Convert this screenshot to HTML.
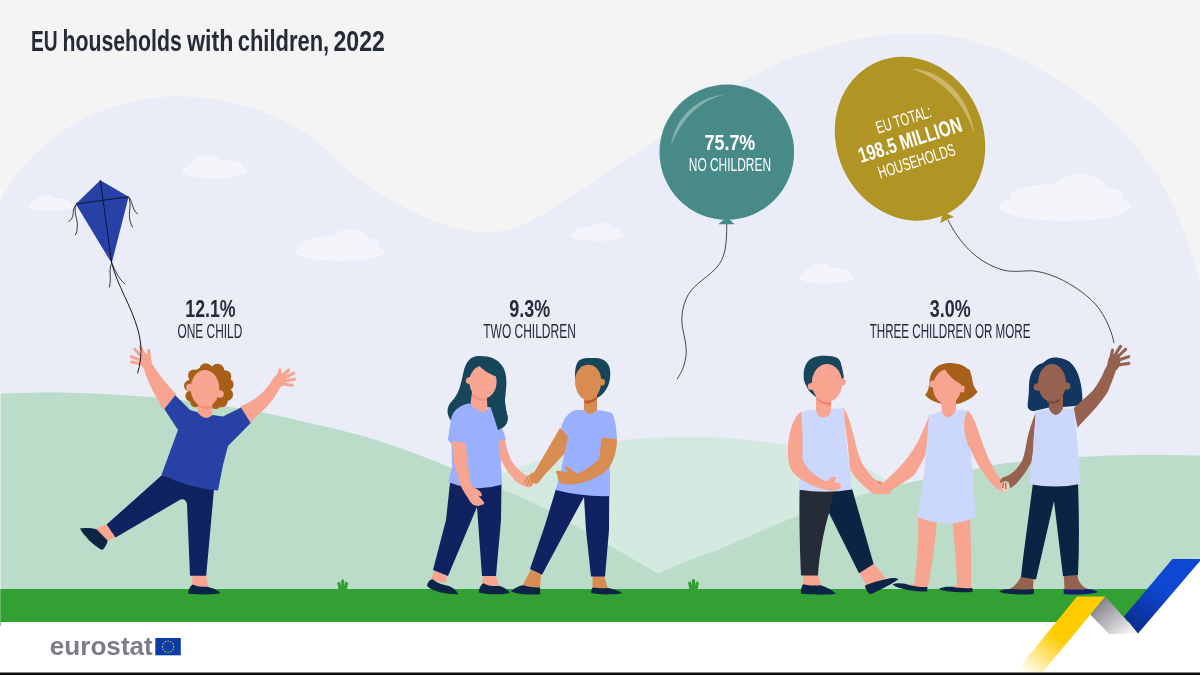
<!DOCTYPE html>
<html><head><meta charset="utf-8">
<style>
html,body{margin:0;padding:0;background:#f4f4f4;}
body{width:1200px;height:675px;overflow:hidden;font-family:"Liberation Sans",sans-serif;}
svg{display:block;will-change:transform;}
text{font-family:"Liberation Sans",sans-serif;}
</style></head><body>
<svg width="1200" height="675" viewBox="0 0 1200 675">
<defs>
<linearGradient id="gy" x1="1088" y1="598" x2="1026" y2="673" gradientUnits="userSpaceOnUse">
<stop offset="0" stop-color="#ffcc00"/><stop offset="0.5" stop-color="#ffcc00"/><stop offset="1" stop-color="#fffdf5"/></linearGradient>
<linearGradient id="gg" x1="1100" y1="602" x2="1128" y2="636" gradientUnits="userSpaceOnUse">
<stop offset="0" stop-color="#85858d"/><stop offset="1" stop-color="#f6f6f6"/></linearGradient>
<linearGradient id="gb" x1="1178" y1="570" x2="1135" y2="626" gradientUnits="userSpaceOnUse">
<stop offset="0" stop-color="#0e47d2"/><stop offset="0.35" stop-color="#0e47d2"/><stop offset="1" stop-color="#0a3092"/></linearGradient>
</defs>
<rect width="1200" height="675" fill="#f4f4f4"/>
<path fill="#eaedf7" d="M0,202 C30,140 100,97 175,96.5 C230,96 270,112 300,130 C325,145 335,160 350,172.5 C370,188 385,197 400,205 C430,221 460,232 485,232.5 C510,232 530,223 550,210 C570,197 585,188 600,177.5 C620,163 635,155 650,145 C670,131 685,119 700,107.5 C718,95 735,85 750,77.5 C768,68 785,60 800,55 C818,49 835,44 850,41 C868,37 885,34 900,34 C918,34 935,34 950,36 C968,39 985,44 1000,50 C1018,57 1035,66 1050,75 C1068,86 1085,97 1100,110 C1120,127 1136,145 1150,165 C1160,179 1168,193 1175,210 C1186,235 1194,258 1200,285 L1200,600 L0,600 Z"/>
<g fill="#f4f5fa"><ellipse cx="50.8" cy="206.0" rx="21.8" ry="5.0"/><ellipse cx="51.2" cy="202.0" rx="18.7" ry="3.8"/><ellipse cx="46.0" cy="200.8" rx="9.1" ry="5.8"/><ellipse cx="214.5" cy="171.1" rx="32.5" ry="7.2"/><ellipse cx="215.2" cy="165.3" rx="27.9" ry="5.6"/><ellipse cx="207.0" cy="163.4" rx="13.7" ry="8.4"/><ellipse cx="340.2" cy="251.3" rx="44.6" ry="9.7"/><ellipse cx="341.1" cy="243.4" rx="38.4" ry="7.5"/><ellipse cx="350.5" cy="240.9" rx="18.7" ry="11.3"/><ellipse cx="597.2" cy="235.3" rx="26.2" ry="5.7"/><ellipse cx="597.8" cy="230.6" rx="22.6" ry="4.4"/><ellipse cx="602.0" cy="229.2" rx="11.0" ry="6.7"/><ellipse cx="1065.5" cy="206.4" rx="65.5" ry="14.6"/><ellipse cx="1066.8" cy="194.7" rx="56.3" ry="11.3"/><ellipse cx="1080.0" cy="190.9" rx="27.5" ry="16.9"/><ellipse cx="826.5" cy="277.3" rx="27.5" ry="6.2"/><ellipse cx="827.0" cy="272.3" rx="23.6" ry="4.8"/><ellipse cx="821.0" cy="270.7" rx="11.5" ry="7.2"/></g>
<path fill="#d4e9df" d="M470.0,490.0 C472.0,488.8 476.7,485.7 482.0,483.0 C487.3,480.3 495.7,476.4 501.8,473.8 C507.9,471.2 512.3,469.5 518.4,467.3 C524.5,465.1 529.1,463.6 538.5,460.7 C547.9,457.8 561.4,453.4 575.0,450.0 C588.6,446.6 605.8,442.6 620.0,440.5 C634.2,438.4 647.8,438.1 660.0,437.5 C672.2,436.9 681.8,436.7 693.5,436.8 C705.2,436.9 718.9,437.5 730.0,438.3 C741.1,439.1 748.3,440.1 760.0,441.5 C771.7,442.9 788.3,445.1 800.0,447.0 C811.7,448.9 821.3,450.7 830.0,453.0 C838.7,455.3 845.3,458.2 852.0,461.0 C858.7,463.8 863.2,466.0 870.0,470.0 C876.8,474.0 886.3,480.5 893.0,485.0 C899.7,489.5 907.2,495.0 910.0,497.0 L910,600 L470,600 Z"/>
<path fill="#badcc9" d="M0.0,393.5 C8.3,393.3 33.3,392.3 50.0,392.4 C66.7,392.4 83.3,393.0 100.0,393.8 C116.7,394.6 133.3,395.6 150.0,397.0 C166.7,398.4 181.7,400.0 200.0,402.5 C218.3,405.0 243.3,408.9 260.0,412.0 C276.7,415.1 286.7,417.8 300.0,420.8 C313.3,423.8 330.0,427.8 340.0,430.2 C350.0,432.6 353.3,433.4 360.0,435.3 C366.7,437.2 370.0,438.0 380.0,441.3 C390.0,444.6 408.0,450.9 420.0,455.4 C432.0,459.8 438.3,462.4 452.0,468.0 C465.7,473.6 486.3,482.2 502.0,489.0 C517.7,495.8 532.8,502.2 546.0,509.0 C559.2,515.8 567.2,521.2 581.5,529.5 C595.8,537.8 619.2,551.1 632.0,558.5 C644.8,565.9 654.1,571.1 658.5,573.6 L700,600 L0,600 Z"/>
<path fill="#badcc9" d="M640,600 L658.5,573.6 C663.8,571.3 678.9,564.4 690.0,560.0 C701.1,555.6 707.5,554.2 725.0,547.0 C742.5,539.8 771.7,525.8 795.0,517.0 C818.3,508.2 849.0,499.0 865.0,494.0 C881.0,489.0 881.2,489.4 891.0,487.0 C900.8,484.6 910.0,482.5 924.0,479.5 C938.0,476.5 961.0,471.8 975.0,469.0 C989.0,466.2 990.5,465.0 1008.0,463.0 C1025.5,461.0 1058.0,458.3 1080.0,457.0 C1102.0,455.7 1120.0,455.2 1140.0,455.0 C1160.0,454.8 1190.0,455.4 1200.0,455.5 L1200,600 Z"/>
<rect x="0" y="589" width="1200" height="33" fill="#33a033"/>
<rect x="0" y="622" width="1200" height="53" fill="#ffffff"/>
<g fill="none" stroke="#33a033" stroke-width="3.2" stroke-linecap="round">
<path d="M342.7,589.5 L342.7,580.9 M340.3,589.5 L338.9,583.5 M345.1,589.5 L346.5,583.5"/>
<path d="M693.5,589.5 L693.5,580.5 M691.1,589.5 L689.7,583.2 M695.9,589.5 L697.3,583.2"/>
</g>
<path fill="#33a033" d="M338.5,586 h8.4 v4 h-8.4z M689.3,586 h8.4 v4 h-8.4z"/>
<!-- kite -->
<g fill="none" stroke="#1a1a1a" stroke-width="0.85" stroke-linecap="round">
<path d="M76,205 C72,209 74,215 72,218 C71,220 70,221 68.8,221.3 M76,205 C73,212 78,219 77.3,226.7 C77.2,230 76.5,233 75.5,234.7"/>
<path d="M128.8,197.3 C133,201 131,208 137.3,213.9 M128.8,197.3 C132,205 128,213 129.9,220 C130.5,223 131.5,225.5 132.5,227.2"/>
<path d="M111.7,263 C108,270 112,277 109.4,287 M111.7,263 C115,270 118,278 124.7,283.8"/>
</g>
<path fill="#2741a6" d="M100.3,180.2 L128.6,196.8 L111.7,263.3 L75.8,204 Z"/>
<path fill="none" stroke="#0d1530" stroke-width="1" d="M100.3,180.2 L111.7,263.3 M75.8,204 L128.6,196.8"/>
<!-- teal balloon -->
<path fill="none" stroke="#444752" stroke-width="1" d="M726.7,223 C727,245 725,258 717,267 C710,276 695,283 688,295 C681,308 681,322 683,330 C686,345 688,352 684,365 C682,372 679,376 677,379.3"/>
<path fill="#488a87" d="M726.9,217 L734.6,224.2 L718.2,224.2 Z"/>
<ellipse cx="726.8" cy="152.2" rx="67.3" ry="67.6" fill="#488a87"/>
<path fill="#ffffff" fill-opacity="0.33" d="M671,146 C674,120 695,97 726,94.2 C700,100 682,118 671,146 Z"/>
<g fill="#ffffff">
<text x="704.5" y="149.6" font-size="22.2" font-weight="700" textLength="50.8" lengthAdjust="spacingAndGlyphs">75.7%</text>
<text x="688.8" y="170.8" font-size="19" textLength="82.2" lengthAdjust="spacingAndGlyphs">NO CHILDREN</text>
</g>
<!-- gold balloon -->
<path fill="none" stroke="#444752" stroke-width="1" d="M948,220 C958,240 975,262 1003,270 C1015,273 1025,270 1034,271 C1060,274 1090,295 1100,310 C1108,322 1112,333 1114,343"/>
<g transform="rotate(-24.5 910 138.8)">
<path fill="#b09424" d="M910,219 L917.5,228 L902.5,228 Z"/>
<ellipse cx="910" cy="138.8" rx="73.4" ry="83.6" fill="#b09424"/>
</g>
<path fill="#ffffff" fill-opacity="0.33" d="M910.7,68.7 C940,69 970,95 974.4,134.8 C965,104 944,79 910.7,68.7 Z"/>
<g fill="#ffffff" transform="rotate(-17.5 910 140)">
<text x="881.4" y="124.5" font-size="17.4" textLength="57.2" lengthAdjust="spacingAndGlyphs">EU TOTAL:</text>
<text x="856.3" y="147.3" font-size="21.5" font-weight="700" textLength="107.4" lengthAdjust="spacingAndGlyphs">198.5 MILLION</text>
<text x="870" y="168" font-size="17.4" textLength="80" lengthAdjust="spacingAndGlyphs">HOUSEHOLDS</text>
</g>
<!-- CHILD 1 -->
<g>
<!-- raised leg foot -->
<path fill="#f7a590" d="M106.6,524.6 L115.6,537.4 L107,541.5 L96,528.5 Z"/>
<path fill="#0c2445" d="M80,528.4 C84,527.5 92,527.8 96.5,529.2 L107.6,540.6 C107,545 104.5,548.5 102,550 C94,546 84,536 80,528.4 Z"/>
<!-- standing foot -->
<path fill="#f7a590" d="M192.4,575 L206.2,575 L208.5,588 L192,588 Z"/>
<path fill="#0c2445" d="M188,593.6 C188.5,589 190.5,585.5 193,584.4 C197,586.5 203,587 207,586.8 C213,588 218,590.5 220.4,593 C215,594.8 195,595 188,593.6 Z"/>
<!-- pants -->
<path fill="#10225f" d="M162,475 L106.6,524.6 L115.6,537.4 L180.5,499.5 Q185.5,498 187,504 L190,575.8 L206.2,575.8 L214,489 Z"/>
<!-- arms -->
<path fill="#f7a590" d="M176.5,394.5 C168,386 160,376 153.5,366 C152,363 149,362 146.5,364 C144.5,366 143.8,368.5 144.5,371 C147,379 151,388 156,397 C158.5,401.5 161,406 163,410 Z"/>
<path fill="#f7a590" d="M240,406.5 C248,403 256,399 262,393 C266,389 270,384 272.5,379.5 C275,377 278.5,378 280,381 C281.5,384 281,387 279,389.5 C275,397 268,407 258,414.5 C255,417 252,420 251.5,424 Z"/>
<!-- hands -->
<ellipse cx="145.8" cy="361.5" rx="5.8" ry="8.8" transform="rotate(-18 145.8 361.5)" fill="#f7a590"/>
<ellipse cx="279.5" cy="380.5" rx="6.2" ry="8.2" transform="rotate(38 279.5 380.5)" fill="#f7a590"/>
<g fill="none" stroke="#f7a590" stroke-linecap="round" stroke-width="3.1">
<path d="M142,357 L134.8,349.3 M144.5,355 L140.4,346.8 M141,360.5 L131.3,356.5 M141.5,364 L131.6,362 M149.3,358 L148.8,350.3"/>
<path d="M278.5,376 L280,369.8 M282,376 L288.8,370 M284,378 L293.8,373.2 M285,381 L294.6,379.3 M283.5,384 L292.3,385.2"/>
</g>
<!-- hair -->
<g fill="#a85f1a">
<ellipse cx="208.5" cy="386" rx="20.5" ry="20"/>
<circle cx="205.8" cy="369.8" r="6.6"/><circle cx="217.5" cy="370.5" r="6.8"/><circle cx="225" cy="376.5" r="6.3"/>
<circle cx="227.6" cy="384.5" r="6"/><circle cx="226.8" cy="394.5" r="6.3"/><circle cx="221.5" cy="401" r="6.3"/><circle cx="215.5" cy="403.5" r="5.6"/>
<circle cx="194" cy="375.6" r="6"/><circle cx="189.6" cy="385.7" r="5.6"/><circle cx="191" cy="396" r="5.6"/><circle cx="195.5" cy="402" r="5.3"/>
</g>
<!-- neck -->
<path fill="#f7a590" d="M198,400 L212.4,400 L212.4,414 Q205,423 197.6,412 Z"/>
<!-- shirt -->
<path fill="#2741a6" d="M175.3,395.3 L190,410 L197.6,412.2 Q205,422 212.4,415 L223,416.4 L241,407.5 L250.7,423 L228,446 L223,465 L218,490.6 Q188,488 161.6,474.6 L178,430 L164.3,409 Z"/>
<!-- face -->
<circle cx="190" cy="387.5" r="3.8" fill="#f7a590"/><circle cx="220" cy="394" r="3.8" fill="#f7a590"/>
<ellipse cx="205" cy="388.5" rx="14.3" ry="18.5" fill="#f7a590"/>
<path fill="#f28f7d" d="M198.5,404 Q205,409 212,405 L212,408 Q205,410.5 198.5,406.5 Z"/>
</g>
<path fill="none" stroke="#1a1a1a" stroke-width="1" stroke-linecap="round" d="M111.7,263 C117,285 131,305 138,330 C142,345 142,358 137.7,373"/>
<!-- GIRL 2 -->
<g>
<!-- hair back -->
<path fill="#17465a" d="M480,356 C470,355.5 466,362 463.5,372 C461,384 459,394 452,401 C446,407 446.5,415 451,420.5 L470,404 L492,408 L498,430 C504,428 509,423 507.5,416 C506,410 504,402 505.5,394 C507,384 507,374 503,367 C498,359 490,356 480,356 Z"/>
<!-- feet -->
<path fill="#f7a590" d="M434,571 L447,575.5 L446,583 L431,580 Z"/>
<path fill="#f7a590" d="M483,575.5 L496,575.5 L499,586 L482,586 Z"/>
<path fill="#0c2445" d="M427,586 C427.5,582 430,579.5 432.5,579.2 C437,583 443,585 449,586 C453,587.5 456.5,590.5 458.3,594.2 C448,594.5 433,592 427,586 Z"/>
<path fill="#0c2445" d="M478.6,592.5 C479,588 481,584.5 483.5,583.2 C488,586 494,586.5 499,585.8 C504,587 508,590 510,593 C503,594.8 488,595 478.6,592.5 Z"/>
<!-- pants -->
<path fill="#10225f" d="M450,483 L446,520 L433,570 L448,576 L477,507 L482,576 L496,576 L501,520 L501.5,483 Z"/>
<!-- shirt body -->
<path fill="#9aaffd" d="M468,403.5 C459,406 452,411 451,420 L448,440 L451.5,444 L452,467 L448.4,482 Q475,493 502,484.5 L500,444 L506,439 L496,412 C494,409 492,408 490,407 L484.5,411.4 Q478,412 471,404 Z"/>
<!-- right tress over shoulder -->
<path fill="#17465a" d="M490,405 L498,430 C504,428 509,423 507.5,416 C506,410 504,402 505.5,394 L496,392 Z"/>
<!-- right arm -->
<path fill="#f7a590" d="M498.5,441 L505,439.5 C507,450 509,456 512,461.5 C516,468 521,472 526,475.5 C530,476 533,479 533.2,482.5 C533.2,486 530,488 526.5,487 C520,485 515,481 511.9,476.7 C506,470 502,463 500,457.8 Z"/>
<!-- left arm + hand -->
<path fill="#f7a590" d="M452.2,441 L465.8,443 C466.5,450 467,454 467.4,457.8 C468,464 468.5,470 469.2,475.6 C470,480 471,483.5 472.2,486.2 L478,489.8 C480,491 481.5,492.8 481.8,494.5 C482,496 481,496.8 479.5,496 L478,495.1 L484,502.2 C484.3,504 483.5,505 482.2,504.6 C480,506 478,506.2 476.9,505.8 C475,505.5 473.5,505 472.2,504 C470,501.5 468.5,499 467.4,496.9 C465.5,494.5 464,492 462.7,489.8 C460.5,485.5 459,481 458,476.7 C456,470 454,464 453.2,457.8 Z"/>
<!-- left sleeve over arm -->
<path fill="#9aaffd" d="M451,420 L448,440 L465.8,443.2 L470,420 Z"/>
<!-- neck -->
<path fill="#f7a590" d="M472,392 L486.5,392 L487.5,409 L484.8,412 Q477,412.5 470.5,403.5 Z"/>
<!-- face -->
<circle cx="469.5" cy="380.5" r="3.6" fill="#f7a590"/>
<ellipse cx="483" cy="382" rx="13.6" ry="16.6" fill="#f7a590"/>
<path fill="#f28f7d" d="M472.5,393.5 Q478,399.5 486,399 L486,400.8 Q477,401.5 472,395.5 Z"/>
<!-- fringe -->
<path fill="#17465a" d="M479,365.5 C483,370 490,374.5 496.5,376.5 L499,384 L504,376 L499,362 L486,357 L474,360 L466,370 L467.5,379 C470,373 474,368 479,365.5 Z"/>
</g>
<!-- BOY 2 -->
<g>
<!-- hair -->
<path fill="#17465a" d="M575.3,380 C574.5,371 575.5,364.5 579,360.6 C582.5,357.6 588,357.9 593.9,358 C599,357.7 604.5,359.3 607.4,363.3 C610,367 610.5,371 610.2,375.2 C610,386 604.5,394 596.8,398.3 L596,384 L582,366 Z"/>
<!-- feet -->
<path fill="#d98c52" d="M531,569.5 L541,574.5 L540,588 L522,586.5 Z"/>
<path fill="#d98c52" d="M592.5,576 L604,576 L608,589 L592.5,589 Z"/>
<path fill="#0c2445" d="M511,591.5 C514,588.5 519,585.5 523,585.2 C529,587 535,587.6 540,587.4 L540.2,594.3 C530,595 518,594.5 511,591.5 Z"/>
<path fill="#0c2445" d="M591.2,593 C591.3,590.5 592,588.5 593,587.6 C598,588.5 604,588.5 608.5,588 C614,589 619.5,591 622.4,593.2 C613,594.8 598,594.8 591.2,593 Z"/>
<!-- pants -->
<path fill="#10225f" d="M556,489 L545,525 L530,569 L542,574.8 L566,530 L584,497 L586,530 L591,576.6 L605,576.6 L609,530 L609.2,494 Z"/>
<!-- left arm (behind shirt) -->
<path fill="#d98c52" d="M560,428 L572,438 L565,453 L545,474.5 L538.5,482.5 C536.5,484.5 533.5,484 532,481.5 C530.5,478.5 529.5,476 528.5,475.3 C530,474 532,473.2 534.4,472 Z"/>
<!-- shirt -->
<path fill="#9aaffd" d="M576,410 C569,411.5 563,419 561,428.5 L568,436.5 L560,475 L555.6,490 Q583,497 610,496 L610,475 L608,440 L617,439 C616.5,428 615,418 612,413 C606,411 601,410.5 597,410 Q590,418 584,410 Z"/>
<!-- right arm across belly -->
<path fill="#d98c52" d="M602,437.5 L617,439.2 C617,448 615,457 611.4,463.7 C608,470 602,475 594.8,478 C587,481.5 579,484 571,484.5 C566,485 561,483.5 559,481.5 C557.5,480 557.8,477 557.5,475 L555.7,472 C556.5,470.5 559,470.5 562,471.5 L568,472 L565,468 C564.5,466.5 565.5,465.8 567,466.5 L577.6,473.8 C586,470 594,464 599,459 Z"/>
<!-- neck -->
<path fill="#d98c52" d="M584,392 L597,392 L597,410 Q590,418 584,410 Z"/>
<!-- face -->
<circle cx="601.6" cy="382.2" r="3.4" fill="#d98c52"/>
<path fill="#d98c52" d="M588.5,364.8 C596,364.8 601.3,372 601.3,381 C601.3,391 595.5,400.3 588,400.3 C580.5,400.3 575,391 575,381 C575,372 581,364.8 588.5,364.8 Z"/>
<path fill="#c0583a" d="M584.5,400.3 Q591,401.5 596.5,396.5 L596.8,399.3 Q591,404.5 584.8,403.2 Z"/>
<path fill="none" stroke="#d98c52" stroke-width="1.7" stroke-linecap="round" d="M528.2,476.5 L524.8,483 M530.3,477.8 L527.6,485 M532.3,479 L530.6,485.8"/>
</g>
<!-- BOY 3 -->
<g>
<!-- hair -->
<path fill="#17465a" d="M817,397.6 C812,394 809.5,391.5 808.1,389.4 C805,384 803.5,380 803.7,377.6 C803.3,370 805,362 811.9,358.3 C816,356.3 820,355.8 824.4,355.8 C829,355.7 834,356.3 837.8,358.3 C840,360 841,363 841.5,365.7 C842.5,369.5 843.3,373 843.9,377.5 L836,385 L820,390 Z"/>
<!-- back foot -->
<path fill="#f7a590" d="M803,575 L818,575 L821,586 L803,586 Z"/>
<path fill="#0c2445" d="M801,593.6 C800.8,589.5 801.5,586 803,584.2 C808,585.5 815,585.6 820.5,585.2 C827,587 833,590.5 836,593.8 C826,595 808,595 801,593.6 Z"/>
<!-- front foot -->
<path fill="#f7a590" d="M859,572.5 L873.6,563.5 L886,578 L867,586 Z"/>
<path fill="#0c2445" d="M865,585.5 C873,582 886,578.5 893,578 C896,578 898,578.5 898.3,579.5 C890,585 878,591 870.5,594.3 C868,593 865.5,589.5 865,585.5 Z"/>
<!-- pants -->
<path fill="#262b38" d="M799.6,490 C799,520 800,550 801,575.6 L818,575.6 C819,555 824,530 829,513 L836.5,490 Z"/>
<path fill="#0a2444" d="M834,490 L852,488.5 L873.6,564 L859,573.2 L829,513 Z"/>
<!-- left arm -->
<path fill="#f7a590" d="M801.5,411.5 C794,416 789,430 788,447 C787.5,458 789,466 792,471 C800,481 815,488 830,490.8 L838,490 C841,488.5 841.5,485.5 840,483.5 L834.5,482 L836,478 C835,476 833,476 831.5,477.5 L827,481.5 C816,477 807,470 803,460 L803,430 Z"/>
<!-- tank -->
<path fill="#ccd7fd" d="M801,412 C806,410.5 812,409.5 816,409.5 C816.5,420.5 830.5,420.5 831,409 C836,408.5 840,408.3 843.6,408.3 L846,440 L850,470 L852,489.5 Q825,494 798,489.5 L802.5,460 L802.5,430 Z"/>
<!-- forearm over tank -->
<path fill="#f7a590" d="M792,471 C800,481 815,488 830,490.8 L838,490 C841,488.5 841.5,485.5 840,483.5 L834.5,482 L836,478 C835,476 833,476 831.5,477.5 L827,481.5 C816,477 807,470 803,460 L797,463 Z"/>
<!-- right arm -->
<path fill="#f7a590" d="M843.6,408.3 C848,414 851.5,427 854.8,440 C856.5,448 858.5,455 861.3,461.7 C865,469 870,475 875.3,480 L881,481.5 C885,482.5 887,486.5 885,490.5 C883,494.5 877,495.5 873,493.5 L871,492 C862,485 855,478 850.4,470.3 L847.2,440 L845,425 Z"/>
<!-- neck -->
<path fill="#f7a590" d="M816,394 L831,394 L831,409 C830.5,420.5 816.5,420.5 816,409.5 Z"/>
<!-- face -->
<circle cx="811.3" cy="386.5" r="3.6" fill="#f7a590"/><circle cx="842.6" cy="382" r="3.3" fill="#f7a590"/>
<ellipse cx="827" cy="383" rx="15.2" ry="19" fill="#f7a590"/>
<path fill="#f4806d" d="M817.3,398.2 Q823,403.3 831,402.3 L831,405.3 Q822,404.8 816.8,399.8 Z"/>
</g>
<!-- GIRL 3 -->
<g>
<!-- hair back -->
<path fill="#a85f1a" d="M951,363 C939,362.5 931,369 929.5,380 C929,388 928,392 925,395 C930,400.5 938,403.5 945,404 L957,404 C966,402 973,397.5 977.6,392 C974,388 972.5,383 972,378 C971,369 963,363.5 951,363 Z"/>
<!-- legs -->
<path fill="#f7a590" d="M918,516 L937,518 C936,540 932,565 928.5,584 L927.4,588 L914,586 C917,565 919,540 918,516 Z"/>
<path fill="#f7a590" d="M952,518 L970,516 C971,540 971.5,565 971,588 L957,588 C957,565 954,540 952,518 Z"/>
<path fill="#f7a590" d="M914,584 L928,586 L927.4,590 L900,586.5 Z"/>
<path fill="#f7a590" d="M957,585 L971,585 L971.5,590 L944,589 Z"/>
<!-- shoes -->
<path fill="#0c2445" d="M892.4,584.5 C896,582.8 902,583 906,584 C913,586.5 921,587.3 927.4,587 L927.2,591.6 C915,591.8 899,589.5 892.4,584.5 Z"/>
<path fill="#0c2445" d="M938.6,589 C942,587 948,586.5 952,586.8 C959,588.3 966,588.5 972.4,588 L972.6,592 C960,592.8 945,592 938.6,589 Z"/>
<!-- left arm -->
<path fill="#f7a590" d="M930,414 C926,424 922,433 918.7,440 C915,447 911,453 907.8,457.3 C901,466 893,474 884,482.3 C880,485 879,489 881,492 C884,495.5 888.5,495 892,492 L890.5,490.9 C899,485 908,480 914.3,474.7 C919,468 922.5,461 925.2,455.2 L928,441 Z"/>
<!-- dress -->
<path fill="#ccd7fd" d="M929,415 C933,413.5 938,412 941.5,411.5 Q948.5,424 956,410 C960,410 964,410.3 968,410.8 L970,440 L972.5,470 L975.6,517 Q948,530 918,517 L924.5,470 L927,440 Z"/>
<!-- right arm -->
<path fill="#f7a590" d="M968,410.8 C973,415 977.5,428 981.5,440 C985,451 989.5,461 994.5,470.3 L1001,480 C1004,481 1007,484 1007.5,487 C1007.5,490.5 1004,492 1001,491 L996.7,488.8 C988,480 980.5,470 975,459.5 C972,453 969.5,446 968,445 C964.5,435 963.5,425 964.5,420 C965,416 966.5,413 968,410.8 Z"/>
<!-- neck -->
<path fill="#f7a590" d="M941.5,396 L956,396 L956,410 Q948.5,424 941.5,411.5 Z"/>
<!-- face -->
<circle cx="932.5" cy="384" r="3.5" fill="#f7a590"/><circle cx="962" cy="389" r="3.5" fill="#f7a590"/>
<ellipse cx="947" cy="387" rx="14" ry="17.5" fill="#f7a590"/>
<!-- fringe -->
<path fill="#a85f1a" d="M945,369 C949,377 957,383 965,385.5 L964,392 L972,384 L970,370 L958,364 L942,364.5 L932,372 L930.5,383 C933,376 938,371 945,369 Z"/>
</g>
<!-- GIRL 4 -->
<g>
<!-- hair -->
<path fill="#12365f" d="M1057,357.5 C1050,357 1046,360 1043,363 C1034,365 1029,374 1029,386 C1029,394 1028,400 1027.6,405 C1027.5,409 1030,411 1034,411 L1049,407.5 L1063,407 L1075,406 C1080,405 1082.5,402 1082.4,398 C1082,385 1079,372 1072,364 C1068,360 1063,358 1057,357.5 Z"/>
<!-- feet -->
<path fill="#96614f" d="M1021,576 L1033.5,578 L1033,590 L1008,590 C1014,587 1019,582 1021,576 Z"/>
<path fill="#96614f" d="M1064,575.5 L1077.5,575 C1078,582 1082,587 1090,590 L1064.5,590 Z"/>
<path fill="#0c2445" d="M999,591.6 C1002,589.8 1006,589 1010,589 C1018,589.6 1027,589.5 1034,589 L1034,594 C1022,595 1006,594.8 999,591.6 Z"/>
<path fill="#101f6b" d="M1063.6,589.2 C1072,589.8 1082,589.6 1088,589 C1092,589.3 1096,590.5 1098,592 C1090,594.8 1072,595 1063.8,594 Z"/>
<!-- pants -->
<path fill="#0a2444" d="M1033,482.5 C1029,515 1024,548 1021,577 L1036,579.5 L1054,501 L1063,576.2 L1078,575 C1079.5,545 1079,515 1078,482.5 Z"/>
<!-- left arm -->
<path fill="#96614f" d="M1036,412 C1032,421 1029,431 1027,440 C1026,447 1024.5,454 1022.7,459.5 C1019.5,466 1015,471 1009.7,474.7 L1003,477.5 C1000.5,478.5 999.5,481 1000.5,483 L1003,481.5 C1005,481 1007,481 1008.5,482 L1010,487 L1009.7,488.8 C1013,486.5 1016,484 1018.4,481.2 C1024,475 1028.5,468 1031.4,461.7 C1033,454 1033.5,447 1033.5,440 L1035,425 Z"/>
<!-- raised arm -->
<path fill="#96614f" d="M1073.7,408.1 C1080,402 1087,396.5 1092.9,390.4 C1098,384 1102,377 1104.8,369.6 L1107.7,364.4 L1115.9,370.4 C1113.5,378 1110.5,385 1107.7,391.9 C1103,399 1098,405 1092.9,411.1 C1088,416.5 1082.5,422 1077.4,427.4 Z"/>
<!-- hand -->
<ellipse cx="1114" cy="362.5" rx="6.3" ry="9.2" transform="rotate(14 1114 362.5)" fill="#96614f"/>
<g fill="none" stroke="#96614f" stroke-linecap="round" stroke-width="3.1">
<path d="M1111,357 L1112.6,350.2 M1115,355 L1120.5,346.3 M1117.5,357 L1125.6,349.3 M1118.5,360 L1128.7,356.7 M1118,365 L1128.8,363.4"/>
</g>
<!-- tank -->
<path fill="#ccd7fd" d="M1035.6,412 C1040,410.5 1045,409.5 1049,409 Q1056,421 1063,408.5 C1067,408.3 1071,408.5 1074,409 C1076,430 1078.5,450 1079.6,470 L1080,484 Q1055,489 1029,484 L1033,455 L1034.5,430 Z"/>
<!-- neck -->
<path fill="#96614f" d="M1049,396 L1063,396 L1063,408.5 Q1056,421 1049,409 Z"/>
<!-- face -->
<circle cx="1037.5" cy="387" r="3.8" fill="#96614f"/><circle cx="1066.5" cy="386" r="3.8" fill="#96614f"/>
<ellipse cx="1052" cy="383" rx="14" ry="19" fill="#96614f"/>
<path fill="#7c4a3d" d="M1047,400.5 Q1054,403 1060,398.5 L1060,401 Q1054,406 1047,402.5 Z"/>
</g>
<!-- clasp details -->
<path fill="#fac4b6" d="M1001.5,485 C1002,483 1004,482.3 1006,482.8 C1008,483.8 1008.9,486 1008.6,488.5 C1008,491 1005.5,492 1003.5,491.5 C1001.5,490.5 1001,488 1001.5,485 Z"/>
<path fill="none" stroke="#96614f" stroke-width="1.2" stroke-linecap="round" d="M1003.3,483 L1002.8,487.5 M1005.8,483 L1005.8,488.5"/>
<path fill="#f4806d" d="M876.5,481 C879,481 881.5,482 882.5,484 L879.5,484 Z"/>
<!-- white right of ribbon -->
<path fill="#ffffff" d="M1200,558 L1200,640 L1130,640 L1138,633.6 Z"/>
<path fill="#ffffff" d="M1090.3,614.2 L1109,634 L1109,640 L1060,640 Z"/>
<path fill="url(#gy)" d="M1077,596.6 L1105.4,596.6 L1042.4,672.5 L1015,672.5 Z"/>
<path fill="url(#gg)" d="M1105.4,596.6 L1138,633.6 L1109,634 L1090.5,614.4 Z"/>
<path fill="url(#gb)" d="M1172.4,559 L1200,559 L1200,561 L1138,633.6 L1124,616.6 Z"/>
<g fill="#262b38">
<g font-size="29" font-weight="700">
<text x="31" y="51" textLength="26.6" lengthAdjust="spacingAndGlyphs">EU</text>
<text x="62.5" y="51" textLength="119.3" lengthAdjust="spacingAndGlyphs">households</text>
<text x="187" y="51" textLength="46.5" lengthAdjust="spacingAndGlyphs">with</text>
<text x="237.7" y="51" textLength="91.5" lengthAdjust="spacingAndGlyphs">children,</text>
<text x="333.5" y="51" textLength="51.3" lengthAdjust="spacingAndGlyphs">2022</text>
</g>
<text x="185.3" y="317" font-size="23" font-weight="700" textLength="50.2" lengthAdjust="spacingAndGlyphs">12.1%</text>
<text x="177.5" y="338" font-size="19.8" textLength="64.8" lengthAdjust="spacingAndGlyphs">ONE CHILD</text>
<text x="509.3" y="317" font-size="23" font-weight="700" textLength="40.8" lengthAdjust="spacingAndGlyphs">9.3%</text>
<text x="483.3" y="338" font-size="19.8" textLength="92.5" lengthAdjust="spacingAndGlyphs">TWO CHILDREN</text>
<text x="929.7" y="317" font-size="23" font-weight="700" textLength="40.9" lengthAdjust="spacingAndGlyphs">3.0%</text>
<text x="869.7" y="338" font-size="19.8" textLength="160.8" lengthAdjust="spacingAndGlyphs">THREE CHILDREN OR MORE</text>
</g>
<text x="49.8" y="655" font-size="25.6" font-weight="700" fill="#7d7d86" textLength="103" lengthAdjust="spacingAndGlyphs">eurostat</text>
<rect x="155.3" y="638" width="25.5" height="17.3" fill="#0b3ba6"/>
<g fill="#f5cf1d"><polygon points="173.70,645.55 173.97,646.33 174.79,646.34 174.14,646.84 174.38,647.63 173.70,647.16 173.02,647.63 173.26,646.84 172.61,646.34 173.43,646.33"/><polygon points="172.95,648.35 173.22,649.13 174.04,649.14 173.39,649.64 173.63,650.43 172.95,649.96 172.27,650.43 172.51,649.64 171.86,649.14 172.68,649.13"/><polygon points="170.90,650.40 171.17,651.18 171.99,651.19 171.34,651.69 171.58,652.48 170.90,652.01 170.22,652.48 170.46,651.69 169.81,651.19 170.63,651.18"/><polygon points="168.10,651.15 168.37,651.93 169.19,651.94 168.54,652.44 168.78,653.23 168.10,652.76 167.42,653.23 167.66,652.44 167.01,651.94 167.83,651.93"/><polygon points="165.30,650.40 165.57,651.18 166.39,651.19 165.74,651.69 165.98,652.48 165.30,652.01 164.62,652.48 164.86,651.69 164.21,651.19 165.03,651.18"/><polygon points="163.25,648.35 163.52,649.13 164.34,649.14 163.69,649.64 163.93,650.43 163.25,649.96 162.57,650.43 162.81,649.64 162.16,649.14 162.98,649.13"/><polygon points="162.50,645.55 162.77,646.33 163.59,646.34 162.94,646.84 163.18,647.63 162.50,647.16 161.82,647.63 162.06,646.84 161.41,646.34 162.23,646.33"/><polygon points="163.25,642.75 163.52,643.53 164.34,643.54 163.69,644.04 163.93,644.83 163.25,644.36 162.57,644.83 162.81,644.04 162.16,643.54 162.98,643.53"/><polygon points="165.30,640.70 165.57,641.48 166.39,641.49 165.74,641.99 165.98,642.78 165.30,642.31 164.62,642.78 164.86,641.99 164.21,641.49 165.03,641.48"/><polygon points="168.10,639.95 168.37,640.73 169.19,640.74 168.54,641.24 168.78,642.03 168.10,641.56 167.42,642.03 167.66,641.24 167.01,640.74 167.83,640.73"/><polygon points="170.90,640.70 171.17,641.48 171.99,641.49 171.34,641.99 171.58,642.78 170.90,642.31 170.22,642.78 170.46,641.99 169.81,641.49 170.63,641.48"/><polygon points="172.95,642.75 173.22,643.53 174.04,643.54 173.39,644.04 173.63,644.83 172.95,644.36 172.27,644.83 172.51,644.04 171.86,643.54 172.68,643.53"/></g>
<rect x="0" y="203" width="0.9" height="386" fill="#eaedf7" opacity="0.85"/>
<rect x="0" y="589" width="0.9" height="33" fill="#ffffff" opacity="0.3"/>
<rect x="0" y="622" width="0.9" height="4" fill="#33a033" opacity="0.6"/>
<rect x="0" y="672.5" width="1200" height="2.5" fill="#0d0d0d"/>
</svg>
</body></html>
